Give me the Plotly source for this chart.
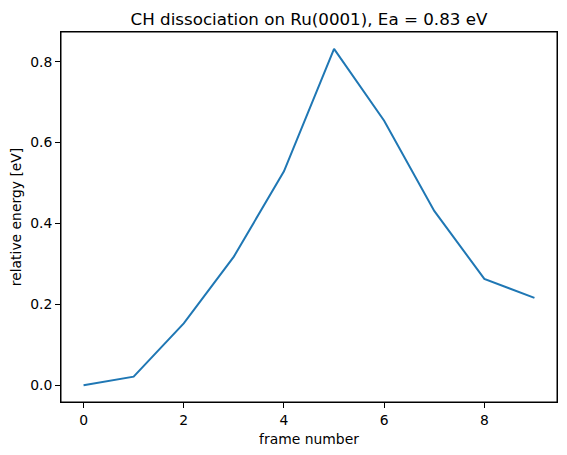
import plotly.graph_objects as go

# --- Data
frames = [0, 1, 2, 3, 4, 5, 6, 7, 8, 9]
rel_energy = [0.0, 0.021, 0.153, 0.318, 0.529, 0.832, 0.654, 0.431, 0.263, 0.216]
ea = max(rel_energy)

fig = go.Figure(go.Scatter(
    x=frames, y=rel_energy, mode="lines",
    line=dict(color="#1f77b4", width=2),
))

axis_common = dict(
    showgrid=False, zeroline=False, showline=True, mirror=True,
    linecolor="black", linewidth=1, ticks="outside", ticklen=5,
    tickcolor="black", tickfont=dict(size=13.9, color="black"),
    automargin=False,
)

# the page body adds an 8px offset, so margins are shifted by that amount
fig.update_layout(
    width=567, height=455,
    margin=dict(l=53, r=18, t=24, b=61, autoexpand=False),
    plot_bgcolor="white", paper_bgcolor="white",
    font=dict(family="DejaVu Sans", color="black"),
    showlegend=False,
    title=dict(text=f"CH dissociation on Ru(0001), Ea = {ea:.2f} eV",
               xref="paper", x=0.5, xanchor="center",
               y=0.976, yanchor="middle",
               font=dict(size=16.7, color="black")),
    xaxis=dict(axis_common, range=[-0.45, 9.45], tickvals=[0, 2, 4, 6, 8],
               title=dict(text="frame number", font=dict(size=13.9), standoff=7)),
    yaxis=dict(axis_common, range=[-0.0416, 0.8736],
               tickvals=[0.0, 0.2, 0.4, 0.6, 0.8], tickformat=".1f",
               title=dict(text="relative energy [eV]", font=dict(size=13.9), standoff=6)),
    shapes=[dict(type="rect", xref="paper", yref="paper", x0=0, y0=0, x1=1, y1=1,
                 line=dict(color="black", width=1), layer="above")],
)

fig.write_html("out.html")
